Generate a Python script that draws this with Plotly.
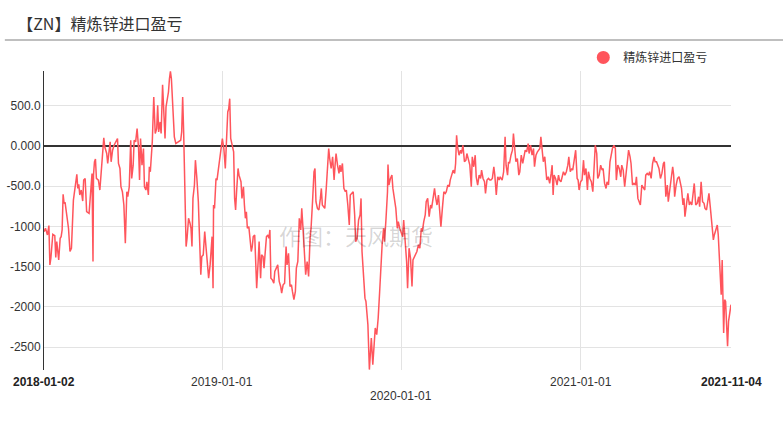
import pandas as pd
import plotly.graph_objects as go

start_date = "2018-01-02"
end_date = "2021-11-04"

# days elapsed since 2018-01-02 for each observation
days_since_start = [
    0, 3, 7, 10, 12, 14, 18, 22, 24, 26, 30, 33, 35, 37, 39, 41, 43, 46, 50, 53,
    56, 60, 64, 67, 69, 71, 73, 76, 79, 81, 84, 87, 92, 95, 98, 100, 101, 103, 105, 107,
    111, 114, 116, 119, 122, 124, 128, 130, 133, 135, 137, 140, 143, 146, 150, 152, 155, 157, 160, 163,
    166, 169, 171, 174, 177, 179, 182, 184, 187, 190, 193, 195, 197, 200, 203, 205, 208, 210, 213, 215,
    217, 221, 224, 227, 230, 232, 234, 237, 239, 242, 244, 247, 249, 251, 254, 256, 258, 260, 263, 266,
    269, 274, 279, 281, 283, 285, 287, 289, 290, 292, 295, 298, 300, 302, 304, 307, 309, 312, 315, 317,
    320, 322, 325, 328, 331, 334, 336, 339, 343, 345, 346, 348, 351, 353, 355, 359, 362, 364, 367, 370,
    372, 375, 377, 379, 381, 384, 387, 389, 391, 393, 396, 398, 402, 404, 407, 409, 411, 413, 415, 418,
    420, 423, 425, 427, 430, 432, 434, 437, 439, 442, 444, 447, 449, 451, 454, 457, 459, 461, 463, 466,
    469, 471,
    477, 480, 483, 485, 488, 491, 494, 496, 499, 502, 505, 507, 510, 513, 515, 518, 521, 524, 526, 529,
    532, 534, 537, 540, 543, 545, 548, 551, 553, 555, 558, 561, 564, 566, 568, 571, 573, 576, 579, 581,
    583, 586, 589, 592, 594, 596, 599, 602, 604, 606, 609, 612, 615, 617, 620, 623, 625, 628, 631, 634,
    636, 639, 642, 645, 647, 649, 652, 655, 657, 661, 664, 666, 668, 671, 674, 676, 679, 682, 685, 687,
    690, 693, 695, 698, 701, 702, 704, 707, 710, 712, 715, 718, 721, 723, 726, 729, 732, 734, 737, 740,
    742, 745, 748, 751, 753, 756, 759, 761, 764, 767, 770, 772, 775, 778, 780, 783, 786, 789, 791, 794,
    797, 799, 802, 805, 808, 810, 813, 816, 819, 821, 824, 827, 829, 832, 835, 838, 840, 842, 844, 847,
    850, 852, 855, 858, 861, 863, 866, 869, 872, 874, 877, 880, 882, 885, 888, 891, 893, 896, 899, 901,
    904, 907, 910, 912, 915, 918, 920, 923, 926, 929, 931,
    933, 935, 938, 941, 943, 946, 948, 950, 953, 956, 958, 961, 963, 966, 969, 971, 974, 977, 980, 982,
    985, 988, 990, 993, 996, 999, 1001, 1004, 1007, 1009, 1012, 1014, 1017, 1019, 1022, 1024, 1026, 1029, 1032, 1035,
    1037, 1039, 1041, 1044, 1047, 1050, 1052, 1055, 1058, 1060, 1063, 1066, 1069, 1071, 1074, 1077, 1079, 1082, 1085, 1088,
    1090, 1092, 1095, 1098, 1101, 1103, 1106, 1109, 1111, 1114, 1117, 1120, 1122, 1125, 1128, 1130, 1133, 1136, 1139, 1141,
    1144, 1147, 1149, 1152, 1155, 1158, 1160, 1163, 1166, 1168, 1171, 1174, 1177, 1179, 1182, 1185, 1188, 1190, 1193, 1196,
    1198, 1201, 1204, 1207, 1209, 1212, 1215, 1217, 1220, 1223, 1226, 1228, 1231, 1234, 1236, 1239, 1242, 1245, 1247, 1250,
    1253, 1255, 1258, 1261, 1264, 1266, 1269, 1272, 1274, 1277, 1280, 1283, 1285, 1287, 1290, 1293, 1296, 1298, 1301, 1304,
    1306, 1308, 1311, 1314, 1317, 1319, 1322, 1325, 1327, 1330, 1333, 1336, 1338, 1341, 1344, 1347, 1349, 1352, 1355, 1357,
    1360, 1363, 1366, 1368, 1371, 1374, 1376, 1379, 1382, 1384, 1385, 1387, 1389, 1391, 1393, 1395, 1397, 1399, 1402,
]

import_profit = [
    -1066, -1024, -1107, -991, -1479, -1396, -1099, -1115, -1388, -1190, -1417, -1148, -1128, -1045, -603, -715, -702, -818, -1024, -1313,
    -1272, -674, -487, -355, -529, -479, -611, -549, -686, -425, -405, -818, -838, -529, -343, -1437, -364, -198, -165, -405,
    -425, -549, -405, -198, 99, -12, -95, -219, -33, 50, -198, -54, 8, 50, 91, -219, -281, -508, -570, -735,
    -1210, -570, -632, -508, 70, -405, -240, 70, 50, 215, -33, -425, 91, -240, -33, -508, -549, -446, -611, -260,
    -322, 50, 607, 153, 215, 504, 174, 297, 153, 760, 463, 91, 483, 545, 669, 834, 925, 834, 463, 112,
    29, 50, 70, 174, 607, 174, -281, -818, -1251, -1148, -900, -962, -1024, -1251, -653, -487, -178, -405, -694, -1066,
    -1602, -1375, -1354, -1066, -1313, -1479, -1644, -1479, -1128, -1768, -735, -777, -405, -425, -322, -95, 8, 91, -33, -281,
    8, 421, 463, 586, 91, 8, -74, -653, -797, -570, -281, -364, -446, -653, -508, -735, -900, -818, -1024, -1004,
    -1107, -1313, -1251, -1128, -1107, -1396, -1768, -1437, -1190, -1644, -1354, -1375, -1520, -1354, -1128, -1107, -1148, -1045, -1644, -1665,
    -1706, -1561,
    -1479, -1685, -1747, -1830, -1727, -1706, -1251, -1479, -1334, -1747, -1727, -1809, -1912, -1809, -1520, -1437, -900, -1045, -777, -1066,
    -1313, -1602, -1437, -1623, -1148, -1024, -694, -322, -281, -694, -777, -797, -653, -529, -735, -756, -777, -529, -240, -33,
    -157, -281, -136, -425, -240, -95, -240, -343, -240, -322, -219, -529, -570, -549, -735, -983, -611, -591, -570, -859,
    -1190, -1148, -921, -859, -653, -1313, -1644, -1892, -1933, -2222, -2780, -2594, -2387, -2718, -2470, -2263, -2346, -2139, -1809, -1561,
    -1231, -1024, -1190, -900, -570, -231, -487, -405, -364, -529, -632, -777, -1024, -942, -1024, -1086, -1128, -921, -1190, -1437,
    -1768, -1272, -1396, -1747, -1417, -1375, -1354, -1313, -1231, -1272, -1024, -1066, -942, -859, -694, -653, -880, -735, -777, -632,
    -529, -632, -735, -611, -818, -1004, -777, -570, -591, -570, -487, -508, -425, -364, -302, -343, -219, 132, -12, -116,
    -54, -95, 8, -198, -178, -95, -157, -240, -508, -136, -260, -116, -384, -487, -364, -405, -302, -405, -446, -591,
    -425, -405, -425, -425, -405, -260, -364, -611, -384, -425, -384,
    -405, -425, -322, 112, -240, -364, -198, -219, -116, -54, 153, -116, -198, -157, -364, -322, -116, -219, -116, -54,
    -74, 29, -95, 8, -116, -33, -260, -116, -74, -54, -33, 112, -33, -198, -136, -322, -425, -384, -467, -343,
    -240, -611, -364, -405, -487, -364, -425, -446, -384, -322, -364, -322, -240, -136, -322, -281, -302, -178, -54, -405,
    -425, -549, -446, -425, -178, -364, -281, -549, -322, -405, -446, -570, -240, 8, -95, -405, -364, -240, -302, -281,
    -467, -529, -446, -487, -198, -95, -33, 8, -33, -425, -240, -281, -384, -240, -302, -508, -364, -198, -54, -136,
    -219, -487, -467, -487, -384, -653, -694, -735, -487, -529, -549, -364, -343, -364, -322, -405, -219, -136, -198, -198,
    -240, -281, -405, -343, -219, -198, -632, -487, -694, -529, -446, -260, -364, -632, -487, -405, -384, -446, -529, -735,
    -653, -880, -694, -591, -735, -694, -735, -570, -467, -735, -714, -632, -756, -446, -694, -714, -777, -797, -694, -591,
    -777, -942, -1169, -1107, -1024, -983, -1107, -1479, -1851, -1417, -1851, -2325, -1912, -1933, -2222, -2490, -2181, -2077, -1974,
]

series_name = "精炼锌进口盈亏"
chart_title = "【ZN】精炼锌进口盈亏"
watermark = "作图：天风期货"

y_tick_values = [-2500, -2000, -1500, -1000, -500, 0, 500]
y_tick_labels = ["-2500", "-2000", "-1500", "-1000", "-500.0", "0.000", "500.0"]
x_grid_dates = ["2019-01-01", "2020-01-01", "2021-01-01"]
x_labels_row1 = ["2019-01-01", "2021-01-01"]
x_labels_row2 = ["2020-01-01"]

dates = pd.Timestamp(start_date) + pd.to_timedelta(days_since_start, unit="D")

LINE_COLOR = "#ff555c"
FONT = "Liberation Sans, Arial, Noto Sans CJK SC, sans-serif"
CJK = "Noto Sans CJK SC, sans-serif"

fig = go.Figure()
fig.add_trace(go.Scatter(
    x=dates, y=import_profit, mode="lines", name=series_name,
    line=dict(color=LINE_COLOR, width=1.5), showlegend=False,
))
fig.add_trace(go.Scatter(
    x=[None], y=[None], mode="markers", name=series_name,
    marker=dict(color=LINE_COLOR, size=13, symbol="circle"), showlegend=True,
))

annotations = []
for d in x_labels_row1:
    annotations.append(dict(x=d, xref="x", y=-0.040, yref="paper", text=d, showarrow=False,
                            xanchor="center", yanchor="middle", font=dict(size=12, color="#333", family=FONT)))
for d in x_labels_row2:
    annotations.append(dict(x=d, xref="x", y=-0.087, yref="paper", text=d, showarrow=False,
                            xanchor="center", yanchor="middle", font=dict(size=12, color="#333", family=FONT)))
for d in [start_date, end_date]:
    annotations.append(dict(x=d, xref="x", y=-0.040, yref="paper", text="<b>%s</b>" % d, showarrow=False,
                            xanchor="center", yanchor="middle", font=dict(size=12, color="#222", family=FONT)))
annotations.append(dict(x=0.454, xref="paper", y=0.45, yref="paper", text=watermark, showarrow=False,
                        xanchor="center", yanchor="middle",
                        font=dict(size=22, color="rgba(0,0,0,0.17)", family=CJK)))

fig.update_layout(
    width=783, height=425,
    margin=dict(l=44, r=52, t=71, b=55),
    paper_bgcolor="white", plot_bgcolor="white",
    title=dict(text=chart_title, x=0.022, xanchor="left", y=0.942, yanchor="middle",
               font=dict(size=16, color="#333", family=CJK)),
    showlegend=True,
    legend=dict(x=0.785, xanchor="left", y=1.094, yanchor="top", orientation="h",
                font=dict(size=12, color="#333", family=CJK), bgcolor="rgba(0,0,0,0)"),
    annotations=annotations,
    shapes=[dict(type="line", xref="paper", yref="paper", x0=-0.057, x1=1.08, y0=1.1037, y1=1.1037,
                 line=dict(color="#aaaaaa", width=1.5))],
    xaxis=dict(range=[start_date, end_date], type="date", tickvals=x_grid_dates, showticklabels=False,
               showgrid=True, gridcolor="#e3e3e3", gridwidth=1, zeroline=False, showline=False, ticks="",
               automargin=False),
    yaxis=dict(range=[-2785, 930], tickvals=y_tick_values, ticktext=y_tick_labels,
               showgrid=True, gridcolor="#e3e3e3", gridwidth=1,
               zeroline=True, zerolinecolor="#333", zerolinewidth=2,
               showline=True, linecolor="#333", linewidth=1, ticks="", automargin=False,
               tickfont=dict(size=12, color="#333", family=FONT)),
)

fig.write_html("out.html")
